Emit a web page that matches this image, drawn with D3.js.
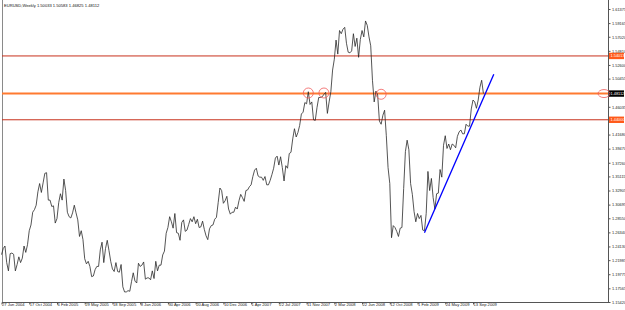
<!DOCTYPE html>
<html>
<head>
<meta charset="utf-8">
<script src="https://cdn.jsdelivr.net/npm/d3@7"></script>
<style>
  body { margin: 0; background: #fff; }
  svg { display: block; font-family: "Liberation Sans", Arial, sans-serif; }
</style>
</head>
<body>
<div id="chart"></div>
<script>
// EURUSD weekly closes, one value per week, first week starts 27 Jun 2004
const closes2004 = [1.2285, 1.2380, 1.2420, 1.2160, 1.2030, 1.2300, 1.2310, 1.2290, 1.2030, 1.2130,
  1.2250, 1.2160, 1.2230, 1.2420, 1.2320, 1.2440, 1.2660, 1.2750, 1.2950, 1.2990,
  1.3060, 1.3270, 1.3400, 1.3260, 1.3410, 1.3560, 1.3570];
const closes2005 = [1.3140, 1.3140, 1.3040, 1.3050, 1.2780, 1.2850, 1.3100, 1.3240, 1.3140, 1.3470,
  1.3290, 1.2950, 1.2880, 1.2860, 1.2940, 1.3060, 1.2940, 1.2830, 1.2570, 1.2660,
  1.2520, 1.2220, 1.2140, 1.2180, 1.2100, 1.1940, 1.1950, 1.2050, 1.2100, 1.2100,
  1.2360, 1.2480, 1.2160, 1.2380, 1.2510, 1.2350, 1.2180, 1.2060, 1.2020, 1.2160,
  1.2020, 1.2010, 1.2130, 1.1780, 1.1700, 1.1700, 1.1720, 1.1710, 1.1860, 1.2000,
  1.1870, 1.1840];
const closes2006 = [1.2150, 1.2100, 1.2120, 1.2170, 1.1900, 1.1920, 1.1920, 1.1890, 1.2030, 1.1910,
  1.2180, 1.2030, 1.2120, 1.2120, 1.2280, 1.2340, 1.2620, 1.2710, 1.2880, 1.2800,
  1.2700, 1.2930, 1.2630, 1.2620, 1.2510, 1.2790, 1.2830, 1.2650, 1.2670, 1.2760,
  1.2850, 1.2800, 1.2880, 1.2770, 1.2840, 1.2710, 1.2720, 1.2810, 1.2680, 1.2580,
  1.2520, 1.2690, 1.2740, 1.2750, 1.2840, 1.2870, 1.3100, 1.3330, 1.3290, 1.3090,
  1.3130, 1.3200, 1.3000];
const closes2007 = [1.2920, 1.2950, 1.2950, 1.3030, 1.3000, 1.3130, 1.3230, 1.3180, 1.3120, 1.3290,
  1.3300, 1.3350, 1.3380, 1.3510, 1.3610, 1.3640, 1.3520, 1.3500, 1.3500, 1.3450,
  1.3510, 1.3380, 1.3380, 1.3450, 1.3540, 1.3640, 1.3800, 1.3830, 1.3690, 1.3820,
  1.3650, 1.3440, 1.3680, 1.3640, 1.3870, 1.3890, 1.4100, 1.4260, 1.4130, 1.4200,
  1.4310, 1.4490, 1.4520, 1.4670, 1.4650, 1.4840, 1.4640, 1.4680, 1.4400, 1.4390,
  1.4590, 1.4750];
const closes2008 = [1.4750, 1.4760, 1.4800, 1.4830, 1.4500, 1.4680, 1.4840, 1.5180, 1.5350, 1.5650,
  1.5430, 1.5800, 1.5750, 1.5820, 1.5850, 1.5600, 1.5460, 1.5450, 1.5480, 1.5750,
  1.5550, 1.5680, 1.5380, 1.5660, 1.5800, 1.5700, 1.5950, 1.5880, 1.5700, 1.5560,
  1.5020, 1.4680, 1.4850, 1.4790, 1.4380, 1.4330, 1.4470, 1.4550, 1.4150, 1.3650,
  1.3400, 1.2550, 1.2740, 1.2710, 1.2650, 1.2570, 1.2700, 1.2710, 1.3320, 1.3900,
  1.4080, 1.3930];
const closes2009 = [1.3400, 1.3230, 1.2960, 1.2800, 1.2930, 1.2850, 1.2900, 1.2670, 1.2660, 1.2930,
  1.3590, 1.3290, 1.3480, 1.3180, 1.3000, 1.3240, 1.3250, 1.3620, 1.3500, 1.4000,
  1.4150, 1.3950, 1.4020, 1.3930, 1.4020, 1.4000, 1.3960, 1.4140, 1.4210, 1.4240,
  1.4180, 1.4180, 1.4330, 1.4300, 1.4300, 1.4570, 1.4710, 1.4680, 1.4580, 1.4710,
  1.4910, 1.5020, 1.48112];
const closes = [].concat(closes2004, closes2005, closes2006, closes2007, closes2008, closes2009);

// x-axis labels, one every 16 weekly bars
const labelStep = 16;
const dateLabels = ["27 Jun 2004", "17 Oct 2004", "6 Feb 2005", "29 May 2005", "18 Sep 2005", "8 Jan 2006",
  "30 Apr 2006", "20 Aug 2006", "10 Dec 2006", "1 Apr 2007", "22 Jul 2007", "11 Nov 2007",
  "2 Mar 2008", "22 Jun 2008", "12 Oct 2008", "1 Feb 2009", "24 May 2009", "13 Sep 2009"];

// price scale labels
const priceTicks = [1.15420, 1.17565, 1.19775, 1.21985, 1.24130, 1.26340, 1.28550, 1.30695, 1.32905,
  1.35115, 1.37260, 1.39470, 1.41680, 1.43890, 1.46035, 1.48245, 1.50455, 1.52600, 1.54810,
  1.57020, 1.59165, 1.61375];

// horizontal levels drawn on the chart
const resistance = 1.54013;
const support = 1.44000;
const bid = 1.48112;

// trend line: [week index, price]
const trendFrom = [244, 1.2628];
const trendTo = [284, 1.5114];

// circled touches of the bid level: [week index, price]
const touches = [[177, 1.4820], [186, 1.4820], [219, 1.4800]];

const title = "EURUSD,Weekly  1.50033 1.50583 1.46825 1.48112";

const W = 625, H = 310;
const plotLeft = 2, plotRight = 608, plotTop = 0, plotBottom = 302;

const svg = d3.select("#chart").append("svg")
    .attr("width", W)
    .attr("height", H);

const x = d3.scaleLinear()
    .domain([0, labelStep * (dateLabels.length - 1)])
    .range([1.5, 473]);

const y = d3.scaleLinear()
    .domain([priceTicks[0], priceTicks[priceTicks.length - 1]])
    .range([plotBottom, 9]);

// frame
svg.append("line").attr("x1", plotLeft + 0.5).attr("x2", plotLeft + 0.5).attr("y1", plotTop).attr("y2", plotBottom)
    .attr("stroke", "#8a8a8a");
svg.append("line").attr("x1", plotLeft).attr("x2", plotRight).attr("y1", plotBottom + 0.5).attr("y2", plotBottom + 0.5)
    .attr("stroke", "#555");
svg.append("line").attr("x1", plotRight + 0.5).attr("x2", plotRight + 0.5).attr("y1", plotTop).attr("y2", plotBottom + 1)
    .attr("stroke", "#555");

// price boxes cover the scale labels they sit on
const levels = [resistance, bid, support];
const visibleTicks = priceTicks.filter(t => !levels.some(l => Math.abs(y(t) - y(l)) < 4));

// price axis on the right
const yAxis = d3.axisRight(y)
    .tickValues(visibleTicks)
    .tickSize(2)
    .tickPadding(1.5)
    .tickFormat(d3.format(".5f"));
const gy = svg.append("g")
    .attr("transform", `translate(${plotRight + 0.5},0)`)
    .call(yAxis);
gy.select(".domain").remove();
gy.selectAll("line").attr("stroke", "#555");
gy.selectAll("text").attr("font-size", 3.9).attr("fill", "#222");

// time axis at the bottom
const xAxis = d3.axisBottom(x)
    .tickValues(d3.range(dateLabels.length).map(k => k * labelStep))
    .tickSize(2)
    .tickFormat((d, i) => dateLabels[i]);
const gx = svg.append("g")
    .attr("transform", `translate(0,${plotBottom + 0.5})`)
    .call(xAxis);
gx.select(".domain").remove();
gx.selectAll("line").attr("stroke", "#555");
gx.selectAll("text")
    .attr("font-size", 4.1)
    .attr("fill", "#222")
    .attr("text-anchor", "start")
    .attr("y", 1)
    .attr("dy", "0.71em");

// title
svg.append("text")
    .attr("x", 4).attr("y", 6.5)
    .attr("font-size", 4.1)
    .attr("fill", "#111")
    .text(title);

// level lines
svg.append("line")
    .attr("x1", plotLeft).attr("x2", plotRight)
    .attr("y1", y(resistance)).attr("y2", y(resistance))
    .attr("stroke", "#c8301c").attr("stroke-width", 1);
svg.append("line")
    .attr("x1", plotLeft).attr("x2", plotRight)
    .attr("y1", y(support)).attr("y2", y(support))
    .attr("stroke", "#c8301c").attr("stroke-width", 1);
svg.append("line")
    .attr("x1", plotLeft).attr("x2", plotRight)
    .attr("y1", y(bid)).attr("y2", y(bid))
    .attr("stroke", "#ff7a30").attr("stroke-width", 2);

// price line
const line = d3.line()
    .x((d, i) => x(i))
    .y(d => y(d));
svg.append("path")
    .datum(closes)
    .attr("fill", "none")
    .attr("stroke", "#2a2a2a")
    .attr("stroke-width", 0.8)
    .attr("d", line);

// trend line
svg.append("line")
    .attr("x1", x(trendFrom[0])).attr("y1", y(trendFrom[1]))
    .attr("x2", x(trendTo[0])).attr("y2", y(trendTo[1]))
    .attr("stroke", "#0000ff").attr("stroke-width", 1.3);

// circles around touches
svg.selectAll("circle.touch")
    .data(touches)
    .enter()
    .append("circle")
    .attr("class", "touch")
    .attr("cx", d => x(d[0]))
    .attr("cy", d => y(d[1]))
    .attr("r", 5)
    .attr("fill", "none")
    .attr("stroke", "#f05a5a")
    .attr("stroke-width", 0.8);

// price boxes on the axis
const boxes = [
    {v: resistance, fill: "#ff5a1a"},
    {v: bid, fill: "#000"},
    {v: support, fill: "#ff5a1a"}
];
boxes.forEach(b => {
    const yy = y(b.v);
    svg.append("rect")
        .attr("x", plotRight + 1).attr("y", yy - 3.2)
        .attr("width", 15).attr("height", 6.4)
        .attr("fill", b.fill);
    svg.append("text")
        .attr("x", plotRight + 2.5).attr("y", yy + 1.5)
        .attr("font-size", 3.9)
        .attr("fill", "#fff")
        .text(d3.format(".5f")(b.v));
});

// red ellipse marking the bid label
svg.append("ellipse")
    .attr("cx", plotRight - 4).attr("cy", y(bid))
    .attr("rx", 6).attr("ry", 4)
    .attr("fill", "none")
    .attr("stroke", "#f05a5a")
    .attr("stroke-width", 0.8);
</script>
</body>
</html>
